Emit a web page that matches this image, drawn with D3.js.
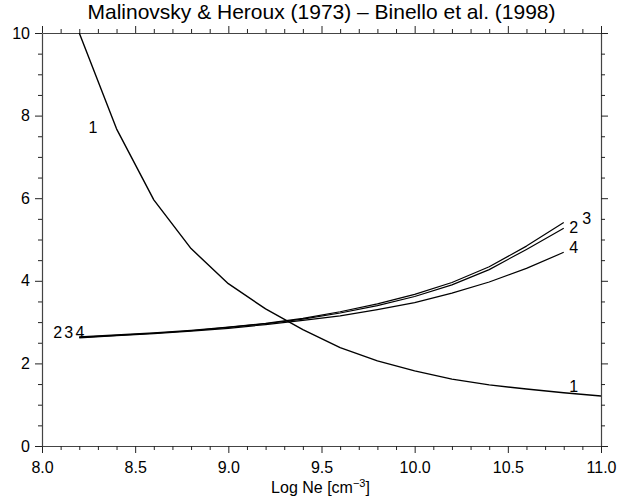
<!DOCTYPE html>
<html>
<head>
<meta charset="utf-8">
<script src="https://cdn.jsdelivr.net/npm/d3@7"></script>
<style>
  html, body { margin: 0; padding: 0; background: #fff; }
  svg { display: block; }
  text { font-family: "Liberation Sans", Arial, Helvetica, sans-serif; fill: #000; }
</style>
</head>
<body>
<svg id="chart" width="629" height="499"></svg>
<script>
// ---- data ----
const title = "Malinovsky & Heroux (1973) \u2013 Binello et al. (1998)";
const xTicks = [8.0, 8.5, 9.0, 9.5, 10.0, 10.5, 11.0];
const yTicks = [0, 2, 4, 6, 8, 10];
const logNe1 = [8.2, 8.4, 8.6, 8.8, 9.0, 9.2, 9.4, 9.6, 9.8, 10.0, 10.2, 10.4, 10.6, 10.8, 11.0];
const curve1 = [10.0, 7.68, 5.96, 4.78, 3.93, 3.32, 2.82, 2.38, 2.06, 1.82, 1.62, 1.48, 1.38, 1.29, 1.21];
const logNe234 = [8.2, 8.4, 8.6, 8.8, 9.0, 9.2, 9.4, 9.6, 9.8, 10.0, 10.2, 10.4, 10.6, 10.8];
const curve2 = [2.63, 2.68, 2.73, 2.79, 2.87, 2.96, 3.07, 3.22, 3.40, 3.62, 3.90, 4.27, 4.76, 5.27];
const curve3 = [2.64, 2.69, 2.74, 2.80, 2.88, 2.97, 3.09, 3.25, 3.44, 3.67, 3.96, 4.34, 4.84, 5.41];
const curve4 = [2.62, 2.67, 2.72, 2.78, 2.85, 2.94, 3.04, 3.15, 3.30, 3.47, 3.70, 3.97, 4.30, 4.69];

// ---- layout ----
const svg = d3.select("#chart");
const L = 42, R = 601, T = 33, B = 446;
const x = d3.scaleLinear().domain([8, 11]).range([L, R]);
const y = d3.scaleLinear().domain([0, 10]).range([B, T]);

const xMinor = d3.range(80, 111).map(v => v / 10).filter(v => Math.abs(v * 2 - Math.round(v * 2)) > 1e-6);
const yMinor = d3.range(0, 21).map(v => v / 2).filter(v => v % 2 !== 0);

function styleAxis(g) {
  g.select(".domain").attr("stroke", "#444").attr("stroke-width", 1.2);
  g.selectAll(".tick line").attr("stroke", "#222").attr("stroke-width", 1);
}
function minorStyle(g) {
  g.select(".domain").remove();
  g.selectAll(".tick line").attr("stroke", "#222");
}

// bottom
const gb = svg.append("g").attr("transform", `translate(0,${B})`)
  .call(d3.axisBottom(x).tickValues(xTicks).tickFormat(d3.format(".1f")).tickSize(7).tickSizeOuter(0).tickPadding(9));
styleAxis(gb);
gb.selectAll(".tick text").attr("font-size", 16).attr("font-family", "Liberation Sans, Arial, sans-serif").attr("fill", "#000");
svg.append("g").attr("transform", `translate(0,${B})`)
  .call(d3.axisBottom(x).tickValues(xMinor).tickFormat("").tickSize(4).tickSizeOuter(0))
  .call(minorStyle);

// top
const gt = svg.append("g").attr("transform", `translate(0,${T})`)
  .call(d3.axisTop(x).tickValues(xTicks).tickFormat("").tickSize(7).tickSizeOuter(0));
styleAxis(gt);
svg.append("g").attr("transform", `translate(0,${T})`)
  .call(d3.axisTop(x).tickValues(xMinor).tickFormat("").tickSize(4).tickSizeOuter(0))
  .call(minorStyle);

// left
const gl = svg.append("g").attr("transform", `translate(${L},0)`)
  .call(d3.axisLeft(y).tickValues(yTicks).tickFormat(d3.format("d")).tickSize(7).tickSizeOuter(0).tickPadding(5));
styleAxis(gl);
gl.selectAll(".tick text").attr("font-size", 16).attr("font-family", "Liberation Sans, Arial, sans-serif").attr("fill", "#000");
svg.append("g").attr("transform", `translate(${L},0)`)
  .call(d3.axisLeft(y).tickValues(yMinor).tickFormat("").tickSize(4).tickSizeOuter(0))
  .call(minorStyle);

// right
const gr = svg.append("g").attr("transform", `translate(${R},0)`)
  .call(d3.axisRight(y).tickValues(yTicks).tickFormat("").tickSize(7).tickSizeOuter(0));
styleAxis(gr);
svg.append("g").attr("transform", `translate(${R},0)`)
  .call(d3.axisRight(y).tickValues(yMinor).tickFormat("").tickSize(4).tickSizeOuter(0))
  .call(minorStyle);

// clip
svg.append("clipPath").attr("id", "clip").append("rect")
  .attr("x", L).attr("y", T).attr("width", R - L).attr("height", B - T);

const line = d3.line().x(d => x(d[0])).y(d => y(d[1]));
const plot = svg.append("g").attr("clip-path", "url(#clip)");
const series = [
  { xs: logNe1, ys: curve1, w: 1.4 },
  { xs: logNe234, ys: curve2, w: 1.2 },
  { xs: logNe234, ys: curve3, w: 1.2 },
  { xs: logNe234, ys: curve4, w: 1.2 }
];
series.forEach(s => {
  plot.append("path")
    .datum(s.xs.map((v, i) => [v, s.ys[i]]))
    .attr("d", line)
    .attr("fill", "none")
    .attr("stroke", "#000")
    .attr("stroke-width", s.w)
    .attr("stroke-linejoin", "round");
});

// curve labels
const labels = [
  { t: "1", lx: 8.25, ly: 7.58 },
  { t: "1", lx: 10.83, ly: 1.31 },
  { t: "2", lx: 10.83, ly: 5.15 },
  { t: "3", lx: 10.90, ly: 5.38 },
  { t: "4", lx: 10.83, ly: 4.67 },
  { t: "2", lx: 8.06, ly: 2.61 },
  { t: "3", lx: 8.12, ly: 2.61 },
  { t: "4", lx: 8.18, ly: 2.61 }
];
svg.append("g").selectAll("text").data(labels).join("text")
  .attr("x", d => x(d.lx)).attr("y", d => y(d.ly))
  .attr("font-size", 16)
  .text(d => d.t);

// title
svg.append("text").attr("x", (L + R) / 2).attr("y", 19)
  .attr("text-anchor", "middle").attr("font-size", 21).text(title);

// x label
const xl = svg.append("text").attr("x", (L + R) / 2 - 1).attr("y", 493)
  .attr("text-anchor", "middle").attr("font-size", 16);
xl.append("tspan").text("Log Ne [cm");
xl.append("tspan").attr("dy", -6).attr("font-size", 11).text("\u22123");
xl.append("tspan").attr("dy", 6).text("]");
</script>
</body>
</html>
